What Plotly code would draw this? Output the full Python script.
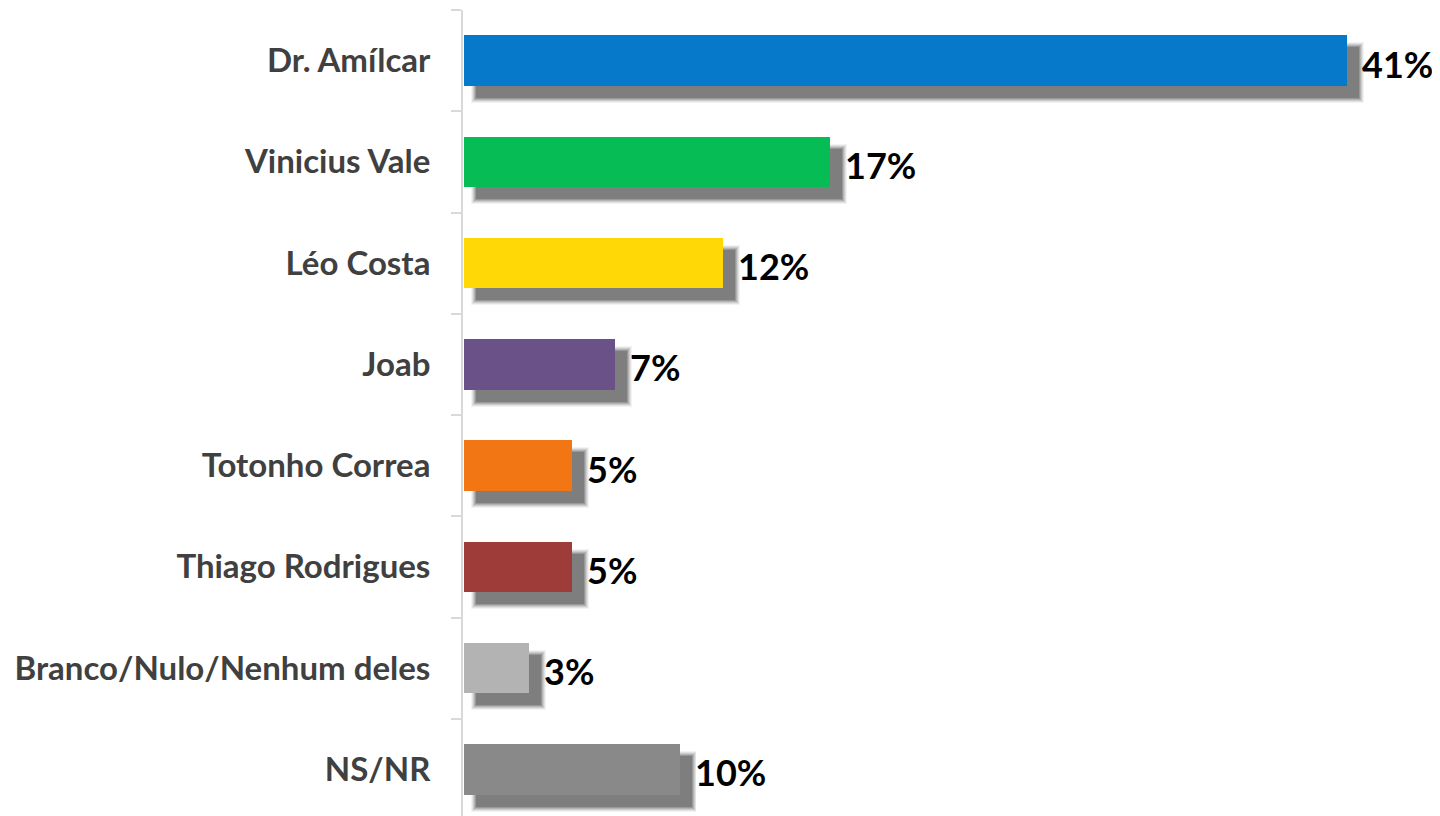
import plotly.graph_objects as go

categories = ["Dr. Amílcar", "Vinicius Vale", "Léo Costa", "Joab", "Totonho Correa",
              "Thiago Rodrigues", "Branco/Nulo/Nenhum deles", "NS/NR"]
values = [41, 17, 12, 7, 5, 5, 3, 10]
labels = ["41%", "17%", "12%", "7%", "5%", "5%", "3%", "10%"]
colors = ["#0779CB", "#06BC55", "#FFD805", "#6A5188", "#F27613", "#9E3C3A", "#B3B3B3", "#898989"]

# page body has an 8px margin, so the figure is drawn 8px smaller
W, H = 1432, 808
ML, MT, MB, MR = 455, 2, 0, 0
XMAX = 45.3
Y0, Y1 = 7.46, -0.5  # reversed categorical range
px_x = (W - ML - MR) / XMAX
px_y = (H - MT - MB) / (Y0 - Y1)

BW = 0.5
fig = go.Figure()

# fake soft drop shadow: several semi-transparent layers
sh_dx, sh_dy = 12, 12
for blur, alpha in [(5, 0.06), (4, 0.09), (3, 0.12), (2, 0.16), (1, 0.2), (0, 0.26)]:
    fig.add_trace(go.Bar(
        y=categories, x=[v + (2 * blur) / px_x for v in values],
        base=(sh_dx - blur) / px_x,
        orientation="h",
        width=BW + 2 * blur / px_y,
        offset=-BW / 2 + (sh_dy - blur) / px_y,
        marker=dict(color=f"rgba(50,50,50,{alpha})", line=dict(width=0)),
        hoverinfo="skip", showlegend=False,
    ))

fig.add_trace(go.Bar(
    y=categories, x=values, orientation="h", width=BW,
    marker=dict(color=colors, line=dict(width=0)),
    showlegend=False,
))

for c, v, t in zip(categories, values, labels):
    fig.add_annotation(x=v, y=c, text=f"<b>{t}</b>", showarrow=False,
                       xanchor="left", yanchor="middle", xshift=13, yshift=-3,
                       font=dict(family="Lato, Calibri, sans-serif", size=36, color="#000000"))

fig.update_layout(
    width=W, height=H,
    margin=dict(l=ML, r=MR, t=MT, b=MB, pad=0),
    paper_bgcolor="white", plot_bgcolor="white",
    barmode="overlay", bargap=0,
    font=dict(family="Lato, Calibri, sans-serif"),
    xaxis=dict(range=[-0.05, XMAX], visible=False, fixedrange=True),
    yaxis=dict(
        type="category", range=[Y0, Y1],
        showline=True, linecolor="#D9D9D9", linewidth=2,
        ticks="outside", tickson="boundaries", ticklen=10, tickcolor="#D9D9D9", tickwidth=2,
        showgrid=False, zeroline=False,
        tickfont=dict(family="Lato, Calibri, sans-serif", size=33, color="#404040"),
        ticklabelstandoff=24,
    ),
)
fig.update_yaxes(tickprefix="<b>", ticksuffix="</b>")

fig.write_html("out.html")
